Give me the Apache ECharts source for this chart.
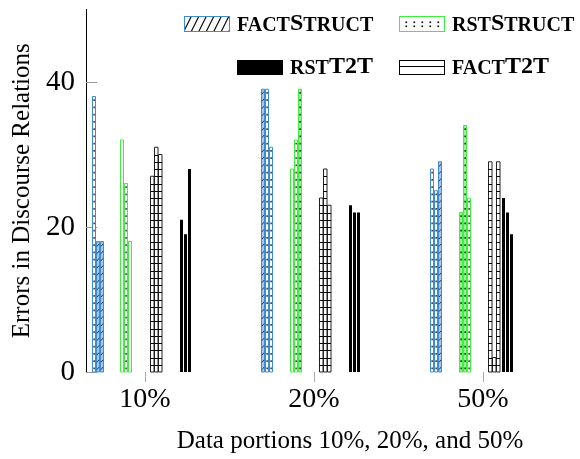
<!DOCTYPE html>
<html><head><meta charset="utf-8">
<script src="https://cdn.jsdelivr.net/npm/echarts@6/dist/echarts.min.js"></script>
<style>html,body{margin:0;padding:0;background:#fff}#c{width:580px;height:459px}</style>
</head><body><div id="c"></div>
<script>
// ---- data ----
const categories = ['10%', '20%', '50%'];
const seriesNames = ['factStruct', 'rstStruct', 'rstT2T', 'factT2T'];
const factStruct = [[38, 18, 18], [39, 39, 31], [28, 25, 29]];
const rstStruct  = [[32, 26, 18], [28, 32, 39], [22, 34, 24]];
const rstT2T     = [[21, 19, 28], [23, 22, 22], [24, 22, 19]];
const factT2T    = [[27, 31, 30], [24, 28, 23], [29, 2, 29]];
const yTickValues = [0, 20, 40];
const xAxisTitle = 'Data portions 10%, 20%, and 50%';
const yAxisTitle = 'Errors in Discourse Relations';

// ---- styling / layout ----
const FONT = 'Liberation Serif';
const BLUE = '#3d8bd0', BLUE_L = '#a3c8ea';
const GREEN = '#3cf03c', GREEN_L = '#95f295';
const BAR_PITCH = 4;
const groupOffset = {           // px from category tick to first sub-bar
  factStruct: [-53, -53, -53],
  rstStruct: [-24.5, -24.5, -24.5],
  factT2T: [5, 5, 5],
  rstT2T: [35, 35, 18.5]
};
const variant = {
  factStruct: [['w', 'f', 'f'], ['f', 'w', 'w'], ['w', 'w', 'f']],
  rstStruct: [['w', 'd', 'w'], ['w', 'd', 'f'], ['f', 'f', 'd']]
};
const seriesValues = { factStruct, rstStruct, rstT2T, factT2T };

function renderFor(name) {
  return function (params, api) {
    const cat = api.value(0), val = api.value(1), sub = api.value(2);
    const base = api.coord([cat, 0]);
    const top = api.coord([cat, val]);
    const x = Math.round(base[0] + groupOffset[name][cat] + sub * BAR_PITCH) + 0.5;
    const y0 = base[1], y1 = top[1], h = y0 - y1;
    const kids = [];
    const unitY = k => api.coord([cat, k])[1];
    if (name === 'rstT2T') {
      kids.push({ type: 'rect', shape: { x: x - 0.5, y: y1, width: 3, height: h }, style: { fill: '#000' } });
    } else if (name === 'factT2T') {
      kids.push({ type: 'rect', shape: { x: x, y: y1, width: 3.5, height: h }, style: { fill: '#fff', stroke: '#222', lineWidth: 1 } });
      for (let k = 1; k < val; k++) {
        const yy = Math.round(unitY(k)) + 0.5;
        kids.push({ type: 'line', shape: { x1: x, y1: yy, x2: x + 3.5, y2: yy }, style: { stroke: '#000', lineWidth: 1 } });
      }
    } else {
      const v = variant[name][cat][sub];
      const isBlue = name === 'factStruct';
      const stroke = isBlue ? BLUE : GREEN;
      const fill = v === 'f' ? (isBlue ? BLUE_L : GREEN_L) : '#fff';
      kids.push({ type: 'rect', shape: { x: x, y: y1, width: 3, height: h }, style: { fill: fill, stroke: stroke, lineWidth: 1 } });
      const dots = isBlue || v !== 'w';
      if (dots) {
        for (let k = 0.5; k < val - 0.3; k += 1) {
          const yy = unitY(k);
          if (isBlue && v === 'f') {
            kids.push({ type: 'line', shape: { x1: x + 0.6, y1: yy + 1.2, x2: x + 2.4, y2: yy - 1.2 }, style: { stroke: '#1a2a40', lineWidth: 0.9 } });
          } else {
            kids.push({ type: 'rect', shape: { x: x + 1, y: yy - 0.8, width: 1.2, height: 1.6 }, style: { fill: '#000' } });
          }
        }
      }
    }
    return { type: 'group', children: kids };
  };
}

function makeIcon(draw) {
  const c = document.createElement('canvas');
  c.width = 46; c.height = 16;
  const g = c.getContext('2d');
  draw(g);
  return 'image://' + c.toDataURL();
}
const icons = {
  factStruct: makeIcon(g => {
    g.fillStyle = '#fff'; g.fillRect(0, 0, 46, 16);
    g.save(); g.beginPath(); g.rect(1, 1, 44, 14); g.clip();
    g.strokeStyle = '#000'; g.lineWidth = 1.1;
    for (let i = -8; i < 52; i += 7.5) { g.beginPath(); g.moveTo(i, 16); g.lineTo(i + 8, 0); g.stroke(); }
    g.restore();
    g.strokeStyle = BLUE; g.lineWidth = 1; g.strokeRect(0.5, 0.5, 45, 15);
  }),
  rstStruct: makeIcon(g => {
    g.fillStyle = '#fff'; g.fillRect(0, 0, 46, 16);
    g.fillStyle = '#000';
    for (let i = 0; i < 5; i++) { const dx = 6.5 + i * 8; g.fillRect(dx, 5.5, 1.6, 1.6); g.fillRect(dx, 9.5, 1.6, 1.6); }
    g.strokeStyle = GREEN; g.lineWidth = 1; g.strokeRect(0.5, 0.5, 45, 15);
  }),
  rstT2T: makeIcon(g => { g.fillStyle = '#000'; g.fillRect(0, 1, 46, 15); }),
  factT2T: makeIcon(g => {
    g.fillStyle = '#fff'; g.fillRect(0, 0, 46, 16);
    g.strokeStyle = '#000'; g.lineWidth = 1;
    g.strokeRect(0.5, 1.5, 45, 14);
    g.beginPath(); g.moveTo(0, 7.5); g.lineTo(46, 7.5); g.stroke();
  })
};

function legendLabel(name) {
  // lowercase -> small caps, uppercase/digits -> full size
  let out = '', cur = null, buf = '';
  for (const ch of name) {
    const t = (ch >= 'a' && ch <= 'z') ? 'sc' : 'big';
    if (t !== cur && buf) { out += '{' + cur + '|' + buf + '}'; buf = ''; }
    cur = t; buf += ch.toUpperCase();
  }
  if (buf) out += '{' + cur + '|' + buf + '}';
  return out;
}

const legendPos = { factStruct: [184, 12], rstStruct: [399, 12], rstT2T: [237, 55], factT2T: [399, 55] };
const richText = {
  sc: { fontFamily: FONT, fontWeight: 'bold', fontSize: 20, lineHeight: 20, verticalAlign: 'bottom', color: '#000' },
  big: { fontFamily: FONT, fontWeight: 'bold', fontSize: 24, lineHeight: 24, verticalAlign: 'bottom', color: '#000' }
};

const series = seriesNames.map(name => {
  const data = [];
  seriesValues[name].forEach((vals, ci) => vals.forEach((v, si) => data.push([ci, v, si])));
  return { type: 'custom', name: name, data: data, encode: { x: 0, y: 1 }, renderItem: renderFor(name), clip: false,
           itemStyle: { color: '#000' } };
});

const chart = echarts.init(document.getElementById('c'), null, { renderer: 'canvas' });
chart.setOption({
  animation: false,
  backgroundColor: '#fff',
  grid: { left: 86, top: 9.5, width: 528, height: 362.5, containLabel: false, outerBoundsMode: 'none' },
  xAxis: {
    type: 'value', min: -0.349, max: 2.775,
    axisLine: { show: false },
    splitLine: { show: false },
    axisTick: { show: true, customValues: [0, 1, 2], length: 10, lineStyle: { color: '#aaa', width: 1 } },
    axisLabel: { customValues: [0, 1, 2], formatter: v => categories[Math.round(v)], fontFamily: FONT, fontSize: 28, color: '#000', margin: 14 },
    name: xAxisTitle, nameLocation: 'middle', nameGap: 57,
    nameTextStyle: { fontFamily: FONT, fontSize: 25, color: '#000' }
  },
  yAxis: {
    type: 'value', min: 0, max: 50,
    axisLine: { show: true, onZero: false, lineStyle: { color: '#000', width: 1 } },
    splitLine: { show: false },
    axisTick: { show: true, inside: true, length: 11, customValues: yTickValues, lineStyle: { color: '#999' } },
    axisLabel: { customValues: yTickValues, fontFamily: FONT, fontSize: 29, color: '#000', margin: 11 },
    name: yAxisTitle, nameLocation: 'middle', nameGap: 50,
    nameTextStyle: { fontFamily: FONT, fontSize: 25, color: '#000' }
  },
  legend: seriesNames.map(name => ({
    data: [{ name: name, icon: icons[name] }],
    left: legendPos[name][0], top: legendPos[name][1], padding: 0,
    itemWidth: 46, itemHeight: 16, selectedMode: false,
    formatter: legendLabel,
    textStyle: { fontFamily: FONT, fontWeight: 'bold', color: '#000', fontSize: 20, rich: richText, padding: [0, 0, 0, 2] }
  })),
  series: series
});
</script></body></html>
